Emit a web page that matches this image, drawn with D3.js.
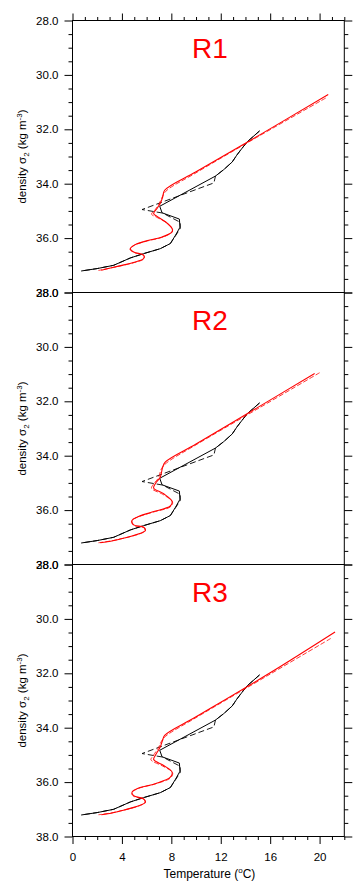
<!DOCTYPE html>
<html>
<head>
<meta charset="utf-8">
<script src="https://cdn.jsdelivr.net/npm/d3@7"></script>
<style>
  html, body { margin: 0; padding: 0; background: #fff; }
  svg { display: block; }
  text { font-family: "Liberation Sans", Arial, Helvetica, sans-serif; }
</style>
</head>
<body>
<svg id="chart" width="364" height="894"></svg>
<script>
// ---------------- data ----------------
const panelNames = ["R1", "R2", "R3"];
const xTickValues = [0, 4, 8, 12, 16, 20];
const yTickValues = [28, 30, 32, 34, 36, 38];
const xLabel = "Temperature";
// [temperature (°C), density sigma2 (kg m-3)]
const blackSolid = [[15.14,32.06],[14.14,32.46],[13.6,32.77],[13.3,32.95],[12.93,33.2],[12.25,33.48],[11.57,33.72],[7.06,34.83],[7.25,35.07],[8.65,35.3],[8.7,35.6],[8.33,35.9],[7.92,36.2],[7.1,36.39],[5.76,36.57],[4.68,36.73],[3.33,37.0],[2.0,37.12],[0.7,37.21]];
const blackDashed = [[15.14,32.06],[14.14,32.46],[13.6,32.77],[13.3,32.95],[12.93,33.2],[12.25,33.48],[11.57,33.72],[11.45,33.97],[5.63,34.95],[7.3,35.08],[8.72,35.42],[8.72,35.65],[8.33,35.92],[7.92,36.2],[7.1,36.39],[5.76,36.57],[4.68,36.73],[3.33,37.0],[2.0,37.12],[0.7,37.21]];

const redSolidR1 = [[20.7,30.72],[14.95,32.26],[10,33.56],[7.46,34.24],[7.3,34.49],[7.1,34.73],[6.84,34.91],[6.57,35.1],[6.84,35.2],[7.52,35.4],[8.06,35.65],[8.06,35.77],[7.25,35.96],[6.17,36.08],[5.08,36.24],[4.68,36.39],[4.95,36.51],[5.76,36.63],[5.76,36.75],[5.08,36.88],[3.73,37.03],[2.33,37.18]];
const redDashedR1 = [[20.5,30.85],[14.9,32.3],[10,33.6],[7.55,34.28],[7.2,34.55],[7.0,34.75],[6.7,34.95],[6.4,35.12],[6.8,35.23],[7.6,35.43],[8.1,35.68],[8.0,35.8],[7.2,35.98],[6.1,36.1],[5.0,36.26],[4.65,36.41],[5.0,36.53],[5.8,36.65],[5.75,36.77],[5.0,36.9],[3.6,37.05],[2.1,37.19]];

const redSolidR2 = [[19.6,30.98],[14.9,32.25],[10,33.57],[7.52,34.23],[7.3,34.42],[7.1,34.79],[6.7,35.03],[6.57,35.19],[7.38,35.4],[8.06,35.68],[7.92,35.85],[6.44,36.07],[5.22,36.26],[4.82,36.38],[4.95,36.54],[5.76,36.63],[5.9,36.75],[3.73,37.08],[2.25,37.2]];
const redDashedR2 = [[20.0,30.95],[14.9,32.3],[10,33.6],[7.6,34.27],[7.2,34.48],[6.95,34.82],[6.55,35.05],[6.4,35.2],[7.3,35.42],[8.1,35.7],[7.95,35.87],[6.4,36.09],[5.15,36.28],[4.78,36.4],[4.95,36.56],[5.8,36.65],[5.85,36.77],[3.6,37.09],[2.1,37.2]];

const redSolidR3 = [[21.25,30.48],[16.0,31.98],[10,33.6],[7.46,34.28],[7.3,34.45],[7.1,34.71],[6.7,35.02],[6.57,35.17],[7.38,35.39],[8.06,35.63],[7.92,35.82],[6.7,36.06],[5.36,36.22],[4.82,36.37],[4.95,36.5],[5.76,36.62],[5.9,36.74],[3.73,37.08],[2.33,37.2]];
const redDashedR3 = [[20.9,30.72],[16.0,32.03],[10,33.63],[7.55,34.31],[7.2,34.5],[6.95,34.74],[6.5,35.05],[6.35,35.18],[7.3,35.41],[8.1,35.65],[7.95,35.84],[6.6,36.08],[5.3,36.24],[4.78,36.39],[4.95,36.52],[5.8,36.64],[5.85,36.76],[3.6,37.09],[2.1,37.2]];

const redSolid = [redSolidR1, redSolidR2, redSolidR3];
const redDashed = [redDashedR1, redDashedR2, redDashedR3];

// ---------------- layout ----------------
const svg = d3.select("#chart");
const left = 72.5, right = 344.3;
const panelTops = [20.5, 292.5, 564.5];
const panelH = 272;

const x = d3.scaleLinear().domain([0, 22]).range([left, right]);
const fmt = d3.format(".1f");

function styleAxis(g) {
  g.select(".domain").remove();
  g.selectAll("line").attr("stroke", "#000").attr("stroke-width", 1);
  g.selectAll("text").attr("fill", "#000").attr("font-size", 11.5);
}

panelNames.forEach((name, i) => {
  const top = panelTops[i];
  const y = d3.scaleLinear().domain([28, 38]).range([top, top + panelH]);
  const g = svg.append("g");

  // minor y ticks
  const minorY = d3.range(28, 38.001, 0.5).filter(v => !yTickValues.includes(v));
  g.append("g").attr("transform", `translate(${left},0)`)
    .call(d3.axisLeft(y).tickValues(minorY).tickSize(4).tickSizeOuter(0).tickFormat(""))
    .call(styleAxis);
  g.append("g").attr("transform", `translate(${right},0)`)
    .call(d3.axisRight(y).tickValues(minorY).tickSize(4).tickSizeOuter(0).tickFormat(""))
    .call(styleAxis);
  // major y ticks
  g.append("g").attr("transform", `translate(${left},0)`)
    .call(d3.axisLeft(y).tickValues(yTickValues).tickSize(8).tickSizeOuter(0).tickPadding(6).tickFormat(fmt))
    .call(styleAxis);
  g.append("g").attr("transform", `translate(${right},0)`)
    .call(d3.axisRight(y).tickValues(yTickValues).tickSize(8).tickSizeOuter(0).tickFormat(""))
    .call(styleAxis);

  if (i === 0) {
    g.append("g").attr("transform", `translate(0,${top})`)
      .call(d3.axisTop(x).tickValues(d3.range(0, 22.001, 1).filter(v => !xTickValues.includes(v))).tickSize(3.5).tickSizeOuter(0).tickFormat(""))
      .call(styleAxis);
    g.append("g").attr("transform", `translate(0,${top})`)
      .call(d3.axisTop(x).tickValues(xTickValues).tickSize(7).tickSizeOuter(0).tickFormat(""))
      .call(styleAxis);
  }
  if (i === panelNames.length - 1) {
    g.append("g").attr("transform", `translate(0,${top + panelH})`)
      .call(d3.axisBottom(x).tickValues(d3.range(0, 22.001, 1).filter(v => !xTickValues.includes(v))).tickSize(3.5).tickSizeOuter(0).tickFormat(""))
      .call(styleAxis);
    g.append("g").attr("transform", `translate(0,${top + panelH})`)
      .call(d3.axisBottom(x).tickValues(xTickValues).tickSize(7.5).tickSizeOuter(0).tickPadding(8.5).tickFormat(d3.format("d")))
      .call(styleAxis);
  }

  // frame
  g.append("rect")
    .attr("x", left).attr("y", top)
    .attr("width", right - left).attr("height", panelH)
    .attr("fill", "none").attr("stroke", "#000").attr("stroke-width", 1);

  // clip
  const clipId = "clip" + i;
  svg.append("clipPath").attr("id", clipId).append("rect")
    .attr("x", left).attr("y", top).attr("width", right - left).attr("height", panelH);

  const lineLin = d3.line().x(d => x(d[0])).y(d => y(d[1]));
  const lineSmooth = d3.line().x(d => x(d[0])).y(d => y(d[1])).curve(d3.curveCatmullRom.alpha(0.5));

  const lines = g.append("g").attr("clip-path", `url(#${clipId})`);
  lines.append("path").datum(blackDashed).attr("d", lineLin)
    .attr("fill", "none").attr("stroke", "#000").attr("stroke-width", 0.9).attr("stroke-dasharray", "6,3");
  lines.append("path").datum(blackSolid).attr("d", lineLin)
    .attr("fill", "none").attr("stroke", "#000").attr("stroke-width", 1);
  lines.append("path").datum(redDashed[i]).attr("d", lineSmooth)
    .attr("fill", "none").attr("stroke", "#ff0000").attr("stroke-width", 0.8).attr("stroke-dasharray", "5,2");
  lines.append("path").datum(redSolid[i]).attr("d", lineSmooth)
    .attr("fill", "none").attr("stroke", "#ff0000").attr("stroke-width", 1.1);

  // panel title
  g.append("text")
    .attr("x", (left + right) / 2 + 1.5).attr("y", top + 37.5)
    .attr("text-anchor", "middle").attr("font-size", 28).attr("fill", "#ff0000")
    .text(name);

  // y-axis title
  const yt = g.append("text")
    .attr("transform", `translate(26,${top + panelH / 2}) rotate(-90)`)
    .attr("text-anchor", "middle").attr("font-size", 11.5).attr("fill", "#000");
  yt.append("tspan").text("density ");
  yt.append("tspan").text("σ");
  yt.append("tspan").attr("font-size", 8).attr("dy", 3).text("2");
  yt.append("tspan").attr("dy", -3).text(" (kg m");
  yt.append("tspan").attr("font-size", 8).attr("dy", -4.5).text("-3");
  yt.append("tspan").attr("dy", 4.5).text(")");
});

// x-axis title
const xt = svg.append("text")
  .attr("x", (left + right) / 2 + 1).attr("y", 877.5)
  .attr("text-anchor", "middle").attr("font-size", 12).attr("fill", "#000");
xt.append("tspan").text(xLabel + " (");
xt.append("tspan").attr("font-size", 8).attr("dy", -4.5).text("o");
xt.append("tspan").attr("dy", 4.5).text("C)");
</script>
</body>
</html>
